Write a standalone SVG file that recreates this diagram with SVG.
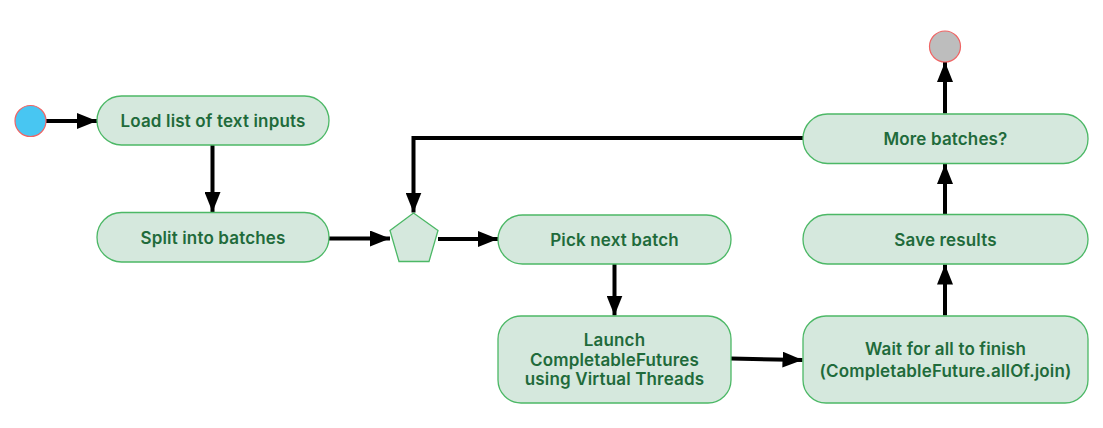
<svg xmlns="http://www.w3.org/2000/svg" width="1103" height="428" viewBox="0 0 1103 428">
<style>
.box{fill:#d5e8dd;stroke:#4cb866;stroke-width:1.3}
.t{font-family:Inter,"Liberation Sans",sans-serif;font-size:17px;letter-spacing:0.15px;font-weight:600;fill:#1f6b3b;text-anchor:middle}
.c{fill:none;stroke:#000;stroke-width:4}
</style>
<defs>
<marker id="ah" markerWidth="5" markerHeight="4" refX="5" refY="2" orient="auto" markerUnits="strokeWidth">
<path d="M0,0 L5,2 L0,4 Z" fill="#000"/>
</marker>
</defs>
<rect width="1103" height="428" fill="#fff"/>
<g id="connectors">
<path class="c" d="M46,121 L97,121" marker-end="url(#ah)"/>
<path class="c" d="M212.5,145 L212.5,212" marker-end="url(#ah)"/>
<path class="c" d="M329,238.5 L390,238.5" marker-end="url(#ah)"/>
<path class="c" d="M438,239 L498,239" marker-end="url(#ah)"/>
<path class="c" d="M614.5,264 L614.5,315.5" marker-end="url(#ah)"/>
<path class="c" d="M731,358.5 L802.5,360" marker-end="url(#ah)"/>
<path class="c" d="M945,315.5 L945,264.5" marker-end="url(#ah)"/>
<path class="c" d="M945,214.5 L945,164" marker-end="url(#ah)"/>
<path class="c" d="M945,113.5 L945,62" marker-end="url(#ah)"/>
<path class="c" d="M803,138 L413.5,138 L413.5,212.5" marker-end="url(#ah)"/>
</g>
<g id="start"><circle cx="30.5" cy="121" r="15.5" fill="#48c6f2" stroke="#f06464" stroke-width="1.2"/></g>
<g id="end"><circle cx="945" cy="46.5" r="15.5" fill="#bdbdbd" stroke="#f06464" stroke-width="1.2"/></g>
<g id="load"><rect class="box" x="97" y="96" width="232" height="49" rx="24.5"/><text class="t" x="213" y="127">Load list of text inputs</text></g>
<g id="split"><rect class="box" x="97" y="212.5" width="232" height="49.5" rx="24.5"/><text class="t" x="213" y="243.5">Split into batches</text></g>
<g id="merge"><polygon class="box" points="413.5,213 438,230.5 429,261.5 399,261.5 390,230.5"/></g>
<g id="pick"><rect class="box" x="498" y="215" width="233" height="49" rx="24.5"/><text class="t" x="614.5" y="246">Pick next batch</text></g>
<g id="launch"><rect class="box" x="498" y="316" width="233" height="87" rx="23"/><text class="t" x="614.5" y="346">Launch</text><text class="t" x="614.5" y="365.5">CompletableFutures</text><text class="t" x="614.5" y="385">using Virtual Threads</text></g>
<g id="wait"><rect class="box" x="803" y="316" width="285" height="87" rx="23"/><text class="t" x="945.5" y="355">Wait for all to finish</text><text class="t" x="945.5" y="377">(CompletableFuture.allOf.join)</text></g>
<g id="save"><rect class="box" x="803" y="214.5" width="285" height="49.5" rx="24.5"/><text class="t" x="945.5" y="246">Save results</text></g>
<g id="more"><rect class="box" x="803" y="114" width="285" height="49.5" rx="24.5"/><text class="t" x="945.5" y="145">More batches?</text></g>
</svg>
